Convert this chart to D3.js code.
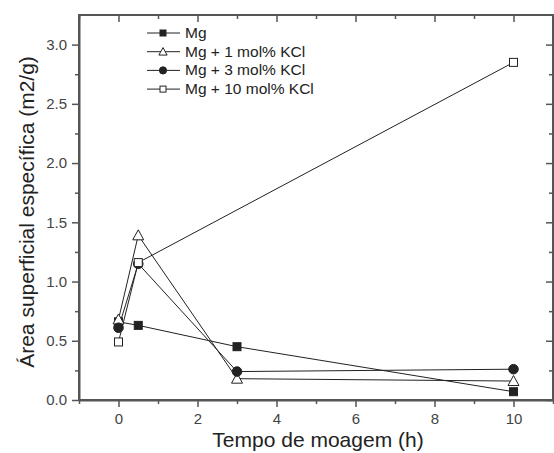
<!DOCTYPE html>
<html>
<head>
<meta charset="utf-8">
<script src="https://cdn.jsdelivr.net/npm/d3@7"></script>
<style>
	body { margin: 0; background: #fff; }
	svg { display: block; font-family: "Liberation Sans", Arial, sans-serif; }
</style>
</head>
<body>
<div id="content"></div>
<script>
// milling time (h) and surface area (m2/g)
var times = [0, 0.5, 3, 10];
var mg = [0.66, 0.63, 0.45, 0.07];
var kcl1 = [0.68, 1.39, 0.18, 0.16];
var kcl3 = [0.61, 1.15, 0.24, 0.26];
var kcl10 = [0.49, 1.16, null, 2.85];

var names = ["Mg", "Mg + 1 mol% KCl", "Mg + 3 mol% KCl", "Mg + 10 mol% KCl"];
var xTicks = [0, 2, 4, 6, 8, 10];
var yTicks = [0, 0.5, 1.0, 1.5, 2.0, 2.5, 3.0];

var W = 554, H = 453;
var padL = 79, padR = 553, padT = 15, padB = 400;
var ink = "#222";
var axisInk = "#555";

var series = [
	{ name: names[0], vals: mg, shape: "square", fill: ink },
	{ name: names[1], vals: kcl1, shape: "triangle", fill: "#fff" },
	{ name: names[2], vals: kcl3, shape: "circle", fill: ink },
	{ name: names[3], vals: kcl10, shape: "square", fill: "#fff" }
];

var svg = d3.select("#content").append("svg")
	.attr("width", W).attr("height", H);

var x = d3.scaleLinear().domain([-1, 11]).range([padL, padR]);
var y = d3.scaleLinear().domain([0, 3.25]).range([padB, padT]);

var minorX = [-1, 1, 3, 5, 7, 9, 11];
var minorY = [0.25, 0.75, 1.25, 1.75, 2.25, 2.75];

// bottom axis
svg.append("g").attr("transform", "translate(0," + padB + ")")
	.call(d3.axisBottom(x).tickValues(xTicks).tickSizeInner(7).tickSizeOuter(0).tickPadding(6)
		.tickFormat(d3.format("d")));
svg.append("g").attr("transform", "translate(0," + padB + ")")
	.call(d3.axisBottom(x).tickValues(minorX).tickSize(4).tickFormat(""))
	.select(".domain").remove();

// top axis, ticks inward
svg.append("g").attr("transform", "translate(0," + padT + ")")
	.call(d3.axisBottom(x).tickValues(xTicks).tickSizeInner(7).tickSizeOuter(0).tickFormat(""))
	.select(".domain").remove();
svg.append("g").attr("transform", "translate(0," + padT + ")")
	.call(d3.axisBottom(x).tickValues(minorX).tickSize(4).tickFormat(""))
	.select(".domain").remove();

// left axis
svg.append("g").attr("transform", "translate(" + padL + ",0)")
	.call(d3.axisLeft(y).tickValues(yTicks).tickSizeInner(7).tickSizeOuter(0).tickPadding(5)
		.tickFormat(d3.format(".1f")));
svg.append("g").attr("transform", "translate(" + padL + ",0)")
	.call(d3.axisLeft(y).tickValues(minorY).tickSize(4).tickFormat(""))
	.select(".domain").remove();

// right axis, ticks inward
svg.append("g").attr("transform", "translate(" + padR + ",0)")
	.call(d3.axisLeft(y).tickValues(yTicks).tickSizeInner(7).tickSizeOuter(0).tickFormat(""))
	.select(".domain").remove();
svg.append("g").attr("transform", "translate(" + padR + ",0)")
	.call(d3.axisLeft(y).tickValues(minorY).tickSize(4).tickFormat(""))
	.select(".domain").remove();

// frame
svg.append("rect")
	.attr("x", padL).attr("y", padT)
	.attr("width", padR - padL).attr("height", padB - padT)
	.attr("fill", "none").attr("stroke", axisInk).attr("stroke-width", 2);

svg.selectAll(".tick line").attr("stroke", axisInk).attr("stroke-width", 1.5);
svg.selectAll(".domain").attr("stroke", axisInk).attr("stroke-width", 2);
svg.selectAll(".tick text").attr("fill", "#444").attr("font-size", 15)
	.attr("font-family", "'Liberation Sans', Arial, sans-serif");

var line = d3.line()
	.x(function (d) { return x(d[0]); })
	.y(function (d) { return y(d[1]); });

var pts = function (s) {
	return times.map(function (t, i) { return [t, s.vals[i]]; })
		.filter(function (d) { return d[1] != null; });
};

series.forEach(function (s) {
	svg.append("path").datum(pts(s))
		.attr("d", line).attr("fill", "none")
		.attr("stroke", ink).attr("stroke-width", 1);
});

var drawMarker = function (g, shape, fill, cx, cy, k) {
	k = k || 1;
	if (shape == "square") {
		g.append("rect").attr("x", cx - 4 * k).attr("y", cy - 4 * k)
			.attr("width", 8 * k).attr("height", 8 * k)
			.attr("fill", fill).attr("stroke", ink).attr("stroke-width", 1);
	}
	else if (shape == "circle") {
		g.append("circle").attr("cx", cx).attr("cy", cy).attr("r", 4.8 * k)
			.attr("fill", fill).attr("stroke", ink).attr("stroke-width", 1);
	}
	else {
		g.append("path")
			.attr("d", "M" + cx + "," + (cy - 5.5 * k) + "L" + (cx + 5.5 * k) + "," + (cy + 4.5 * k) +
				"L" + (cx - 5.5 * k) + "," + (cy + 4.5 * k) + "Z")
			.attr("fill", fill).attr("stroke", ink).attr("stroke-width", 1);
	}
};

var marks = svg.append("g");
series.forEach(function (s) {
	pts(s).forEach(function (d) {
		drawMarker(marks, s.shape, s.fill, x(d[0]), y(d[1]));
	});
});

// legend
var leg = svg.append("g");
series.forEach(function (s, i) {
	var ly = 33 + i * 18.7;
	leg.append("line").attr("x1", 147).attr("x2", 180).attr("y1", ly).attr("y2", ly)
		.attr("stroke", ink).attr("stroke-width", 1);
	drawMarker(leg, s.shape, s.fill, 163, ly, 0.75);
	leg.append("text").attr("x", 185).attr("y", ly + 5)
		.attr("fill", "#222").style("font-size", "15.5px")
		.text(s.name);
});

// axis titles
svg.append("text")
	.attr("x", 318).attr("y", 447)
	.attr("text-anchor", "middle").attr("fill", "#222")
	.style("font-size", "21px")
	.text("Tempo de moagem (h)");

svg.append("text")
	.attr("transform", "translate(34,212) rotate(-90)")
	.attr("text-anchor", "middle").attr("fill", "#222")
	.style("font-size", "21px")
	.text("Área superficial específica (m2/g)");
</script>
</body>
</html>
